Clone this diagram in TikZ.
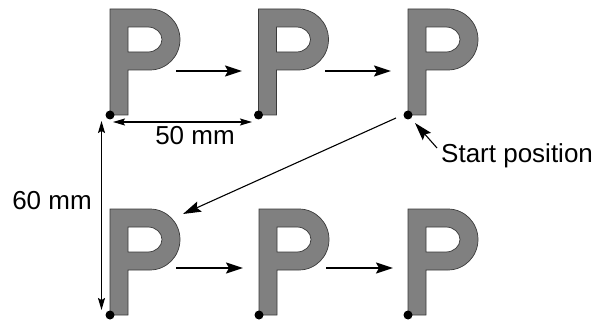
\documentclass[tikz,border=0pt]{standalone}
\usepackage{fontspec}
\setmainfont{Liberation Sans}
\usetikzlibrary{arrows.meta}
\definecolor{pgray}{HTML}{808080}
\definecolor{pedge}{HTML}{3A3A3A}
\begin{document}
\begin{tikzpicture}[x=1pt,y=-1pt,
  pletter/.pic={
    \filldraw[fill=pgray,draw=pedge,line width=0.7pt,even odd rule]
      (0,0) -- (0,-106) -- (40,-106)
      .. controls (56.6,-106) and (70,-92.3) .. (70,-75.5)
      .. controls (70,-58.7) and (56.6,-45) .. (40,-45)
      -- (18,-45) -- (18,0) -- cycle
      (18,-88) -- (38,-88)
      .. controls (45.7,-88) and (52,-82.4) .. (52,-75.5)
      .. controls (52,-68.6) and (45.7,-63) .. (38,-63)
      -- (18,-63) -- cycle;
  },
  dotmark/.style={fill=black},
  movearrow/.style={line width=1.8pt,-{Stealth[length=17pt,width=11pt,inset=3pt]}},
  diagarrow/.style={line width=1.1pt,-{Stealth[length=18pt,width=11pt,inset=3pt]}},
  dimarrow/.style={line width=1.1pt,{Stealth[length=12pt,width=7pt,inset=2pt]}-{Stealth[length=12pt,width=7pt,inset=2pt]}},
  lbl/.style={font=\fontsize{26}{30}\selectfont,inner sep=0pt}
]
\useasboundingbox (0,0) rectangle (615,323);
% dot positions (bottom-left corners of the P letters)
\coordinate (d1) at (110,115);
\coordinate (d2) at (258.5,115);
\coordinate (d3) at (408,115);
\coordinate (d4) at (110,315);
\coordinate (d5) at (259,315);
\coordinate (d6) at (408,315);
\foreach \d in {d1,d2,d3,d4,d5,d6}{
  \pic at (\d) {pletter};
  \fill[dotmark] (\d) circle (4.5);
}
% movement arrows
\coordinate (a1s) at (176,71);  \coordinate (a1e) at (242,71);
\coordinate (a2s) at (325,71);  \coordinate (a2e) at (391,71);
\coordinate (a3s) at (176,268); \coordinate (a3e) at (243,268);
\coordinate (a4s) at (326,268); \coordinate (a4e) at (393,268);
\draw[movearrow] (a1s) -- (a1e);
\draw[movearrow] (a2s) -- (a2e);
\draw[movearrow] (a3s) -- (a3e);
\draw[movearrow] (a4s) -- (a4e);
% diagonal return arrow
\coordinate (gs) at (396,118);
\coordinate (ge) at (183,214);
\draw[diagarrow] (gs) -- (ge);
% dimension arrows
\coordinate (h1) at (113,122); \coordinate (h2) at (252,122);
\draw[dimarrow] (h1) -- (h2);
\coordinate (v1) at (101.5,121); \coordinate (v2) at (101.5,310);
\draw[dimarrow] (v1) -- (v2);
% labels
\node[lbl] (t50) at (195,136) {50 mm};
\node[lbl] (t60) at (52,201) {60 mm};
\node[lbl,anchor=west] (tsp) at (441,156) {Start position};
% start position pointer
\coordinate (sp) at (415,123);
\coordinate (st) at (437,148);
\draw[diagarrow] (st) -- (sp);
\end{tikzpicture}
\end{document}
